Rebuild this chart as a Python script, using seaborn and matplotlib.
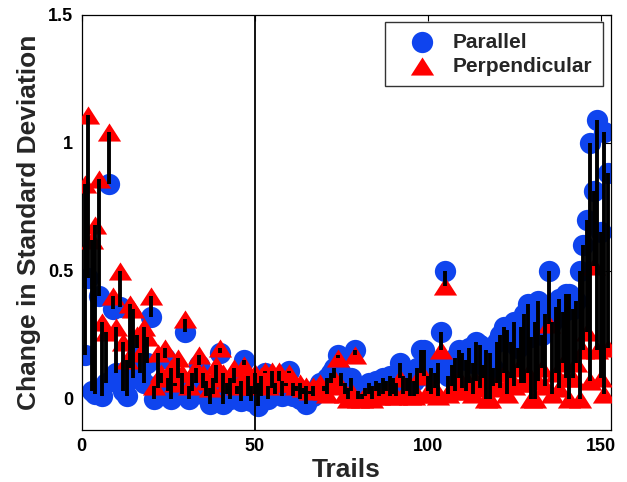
import numpy as np
import pandas as pd
import matplotlib
matplotlib.use("Agg")
import matplotlib.pyplot as plt
import seaborn as sns

# ---- data ----
trials = list(range(1, 153))

parallel = [
    0.17, 0.47, 0.03, 0.02, 0.40, 0.01, 0.06, 0.84, 0.35, 0.10,   # 1-10
    0.36, 0.03, 0.01, 0.12, 0.08, 0.20, 0.10, 0.06, 0.14, 0.32,   # 11-20
    0.00, 0.04, 0.06, 0.16, 0.03, 0.00, 0.05, 0.08, 0.02, 0.26,   # 21-30
    0.00, 0.03, 0.06, 0.13, 0.04, 0.01, -0.02, 0.02, 0.06, 0.18,  # 31-40
    -0.02, 0.02, 0.00, 0.06, 0.02, -0.01, 0.15, 0.01, -0.01, 0.02, # 41-50
    -0.03, 0.01, 0.10, 0.00, 0.04, 0.02, 0.07, 0.01, 0.05, 0.11,  # 51-60
    0.01, 0.03, 0.00, 0.02, -0.02, 0.02, 0.01, 0.04, 0.06, 0.05,  # 61-70
    0.08, 0.10, 0.12, 0.17, 0.10, 0.06, 0.04, 0.08, 0.19, 0.03,   # 71-80
    0.02, 0.04, 0.06, 0.05, 0.07, 0.06, 0.08, 0.07, 0.09, 0.08,   # 81-90
    0.06, 0.14, 0.09, 0.08, 0.10, 0.07, 0.12, 0.19, 0.19, 0.09,   # 91-100
    0.12, 0.10, 0.14, 0.26, 0.50, 0.09, 0.13, 0.16, 0.19, 0.18,   # 101-110
    0.15, 0.20, 0.14, 0.22, 0.21, 0.13, 0.19, 0.18, 0.12, 0.22,   # 111-120
    0.25, 0.28, 0.27, 0.22, 0.30, 0.20, 0.28, 0.33, 0.37, 0.24,   # 121-130
    0.30, 0.38, 0.25, 0.33, 0.50, 0.30, 0.36, 0.39, 0.34, 0.41,   # 131-140
    0.41, 0.35, 0.38, 0.50, 0.60, 0.70, 1.00, 0.81, 1.09, 0.65,   # 141-150
    1.04, 0.88,                                                   # 151-152
]

perpendicular = [
    0.84, 1.11, 0.62, 0.68, 0.86, 0.30, 0.26, 1.04, 0.40, 0.28,   # 1-10
    0.50, 0.22, 0.15, 0.37, 0.35, 0.25, 0.18, 0.28, 0.24, 0.40,   # 11-20
    0.05, 0.18, 0.10, 0.20, 0.08, 0.12, 0.06, 0.16, 0.10, 0.31,   # 21-30
    0.05, 0.10, 0.12, 0.17, 0.10, 0.07, 0.04, 0.08, 0.13, 0.20,   # 31-40
    0.10, 0.06, 0.08, 0.12, 0.05, 0.07, 0.13, 0.09, 0.05, 0.10,   # 41-50
    0.06, 0.09, 0.11, 0.05, 0.11, 0.06, 0.11, 0.07, 0.06, 0.10,   # 51-60
    0.06, 0.05, 0.06, 0.04, 0.05, 0.03, 0.05, 0.04, 0.06, 0.03,   # 61-70
    0.02, 0.06, 0.08, 0.16, 0.05, 0.02, 0.00, 0.03, 0.17, 0.00,   # 71-80
    0.00, 0.01, 0.02, 0.00, 0.03, 0.01, 0.02, 0.03, 0.01, 0.02,   # 81-90
    0.01, 0.08, 0.02, 0.03, 0.01, 0.01, 0.02, 0.10, 0.09, 0.03,   # 91-100
    0.02, 0.04, 0.01, 0.19, 0.44, 0.02, 0.05, 0.03, 0.08, 0.04,   # 101-110
    0.03, 0.06, 0.02, 0.07, 0.04, 0.08, 0.00, 0.00, 0.05, 0.06,   # 111-120
    0.04, 0.10, 0.02, 0.08, 0.05, 0.12, 0.06, 0.06, 0.10, 0.00,   # 121-130
    0.00, 0.07, 0.12, 0.05, 0.29, 0.02, 0.10, 0.04, 0.14, 0.08,   # 131-140
    0.00, 0.08, 0.14, 0.00, 0.19, 0.26, 0.07, 0.52, 0.19, 0.08,   # 141-150
    0.02, 0.20,                                                   # 151-152
]

series_names = ["Parallel", "Perpendicular"]
x_ticks = [0, 50, 100, 150]
y_ticks = [0, 0.5, 1, 1.5]
y_tick_labels = ["0", "0.5", "1", "1.5"]
divider_trial = 50

assert len(parallel) == len(trials) == len(perpendicular)

df = pd.DataFrame({"Trail": trials, "Parallel": parallel,
                   "Perpendicular": perpendicular})

# ---- style ----
sns.set_style("white")
plt.rcParams["font.family"] = ["Liberation Sans", "DejaVu Sans"]
plt.rcParams["font.weight"] = "bold"

fig = plt.figure(figsize=(6.27, 4.82), dpi=100)
ax = fig.add_axes([0.130, 0.108, 0.8445, 0.8615])

blue = "#0f44ee"
red = "#ff0000"
tri = [(0, 0.78), (-1, -0.78), (1, -0.78), (0, 0.78)]

sns.scatterplot(data=df, x="Trail", y="Parallel", ax=ax, color=blue,
                marker="o", s=235, linewidth=0, label=series_names[0],
                zorder=2)
sns.scatterplot(data=df, x="Trail", y="Perpendicular", ax=ax, color=red,
                marker=tri, s=280, linewidth=0, label=series_names[1],
                zorder=3)
ax.vlines(df["Trail"], df["Parallel"], df["Perpendicular"],
          color="black", linewidth=2.8, zorder=4)
ax.axvline(divider_trial, color="black", linewidth=1.3, zorder=5)

ax.set_xlim(0, 153)
ax.set_ylim(-0.122, 1.5)
ax.set_xticks(x_ticks)
ax.set_yticks(y_ticks)
ax.set_yticklabels(y_tick_labels)
ax.tick_params(direction="in", length=4, width=0.8, top=True, right=True,
               labelsize=13, colors="black", pad=6)
for lab in ax.get_xticklabels() + ax.get_yticklabels():
    lab.set_fontweight("bold")
for sp in ax.spines.values():
    sp.set_visible(True)
    sp.set_color("black")
    sp.set_linewidth(0.9)

ax.set_xlabel("Trails", fontsize=19, fontweight="bold", labelpad=2)
ax.set_ylabel("Change in Standard Deviation", fontsize=19,
              fontweight="bold", labelpad=5)

leg = ax.legend(loc="upper right", bbox_to_anchor=(0.985, 0.982),
                borderaxespad=0, frameon=True, fancybox=False,
                prop={"weight": "bold", "size": 15}, handletextpad=0.25,
                borderpad=0.5, labelspacing=0.25, handlelength=2.5)
leg.get_frame().set_edgecolor("black")
leg.get_frame().set_linewidth(1.0)

fig.savefig("out.png", dpi=100)
